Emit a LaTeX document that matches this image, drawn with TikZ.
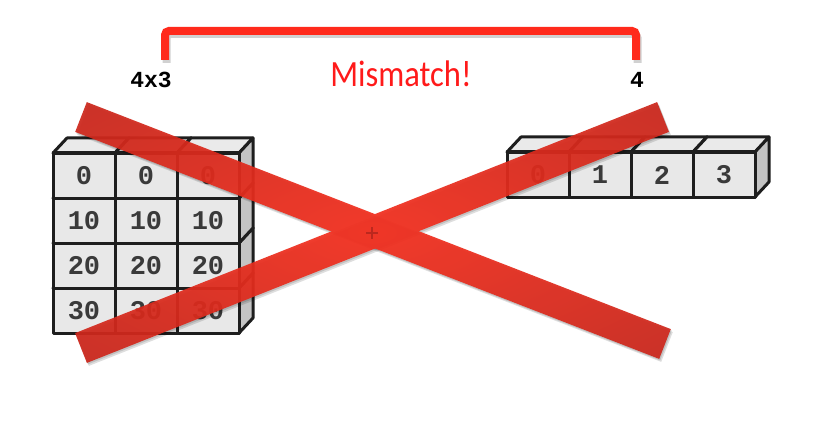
\documentclass[tikz,border=0pt]{standalone}
\usepackage{fontspec}
\newfontfamily\monof{Liberation Mono}
\newfontfamily\misf{Carlito}[FakeStretch=0.88]
\usetikzlibrary{calc}
\definecolor{edgec}{HTML}{1E1E1E}
\definecolor{frontc}{HTML}{E8E8E8}
\definecolor{topc}{HTML}{EAEAEA}
\definecolor{sidec}{HTML}{C4C4C4}
\definecolor{numc}{HTML}{3A3A3A}
\definecolor{bracketc}{HTML}{FF2A1C}
\definecolor{misc}{HTML}{FF1A1A}
\definecolor{xin}{HTML}{F6301F}
\definecolor{xout}{HTML}{AE221B}
\pgfdeclareradialshading{xshade}{\pgfpoint{0bp}{0bp}}{color(0bp)=(xin); color(58bp)=(xout); color(80bp)=(xout)}
\tikzset{
  face/.style={draw=edgec, line width=3pt, line join=round},
  frontface/.style={face, fill=frontc},
  topface/.style={face, fill=topc},
  sideface/.style={face, fill=sidec},
  val/.style={font=\monof\bfseries\fontsize{27}{27}\selectfont, text=numc, inner sep=0pt},
  dimlabel/.style={font=\monof\bfseries\fontsize{23}{23}\selectfont, text=black, inner sep=0pt, anchor=base},
  misslabel/.style={font=\misf\fontsize{37}{37}\selectfont, text=misc, inner sep=0pt, anchor=base},
  bracketline/.style={draw=bracketc, line width=8pt, rounded corners=4pt},
  bracketshadow/.style={draw=black, opacity=0.18, line width=8pt, rounded corners=4pt},
  xshadow/.style={fill=black, opacity=0.13},
}
% cube: x, y (top-left of front face), label, node name
\newcommand\mycube[4]{%
  \path[topface] (#1,#2) -- ++(14,-15) -- ++(62,0) -- ++(-14,15) -- cycle;
  \path[sideface] (#1+62,#2) -- ++(14,-15) -- ++(0,45) -- ++(-14,15) -- cycle;
  \path[frontface] (#1,#2) rectangle ++(62,45);
  \node[val] (#4) at (#1+31,#2+23) {#3};
}
\begin{document}
\begin{tikzpicture}[x=1pt,y=-1pt]
\useasboundingbox[fill=white] (0,0) rectangle (819,425);
% left 4x3 grid
\foreach \r in {3,2,1,0}{
  \foreach \c in {0,1,2}{
    \pgfmathtruncatemacro\v{10*\r}
    \mycube{53+62*\c}{153+45*\r}{\v}{L\r\c}
  }
}
% right 1x4 row
\foreach \c in {0,1,2,3}{
  \mycube{507+62*\c}{152}{\c}{R\c}
}
% bracket
\coordinate (bl) at (165,60);
\coordinate (br) at (636,60);
\draw[bracketshadow] ($(bl)+(1.5,3)$) -- ++(0,-29) -| ($(br)+(1.5,3)$);
\draw[bracketline] (bl) -- ++(0,-29) -| (br);
% labels
\node[dimlabel] (lbl4x3) at (151,88) {4x3};
\node[dimlabel] (lbl4) at (637,88) {4};
\node[misslabel] (miss) at (401,87) {Mismatch!};
% red X shadow
\fill[xshadow] (88.8,105.1) -- (77.2,134.9) -- (661.2,361.9) -- (672.8,332.1) -- cycle;
\fill[xshadow] (77.1,336.1) -- (88.9,365.9) -- (670.9,134.9) -- (659.1,105.1) -- cycle;
\fill[xshadow] (87.8,103.6) -- (76.2,133.4) -- (660.2,360.4) -- (671.8,330.6) -- cycle;
\fill[xshadow] (76.1,334.6) -- (87.9,364.4) -- (669.9,133.4) -- (658.1,103.6) -- cycle;
% red X
\begin{scope}[transparency group, opacity=0.93]
  \shade[shading=xshade] (86.8,102.1) -- (75.2,131.9) -- (659.2,358.9) -- (670.8,329.1) -- cycle;
  \shade[shading=xshade] (75.1,333.1) -- (86.9,362.9) -- (668.9,131.9) -- (657.1,102.1) -- cycle;
\end{scope}
\draw[draw=xout!85!black, opacity=0.55, line width=2.2pt] (366,233) -- (378,233) (372,227) -- (372,239);
\end{tikzpicture}
\end{document}
